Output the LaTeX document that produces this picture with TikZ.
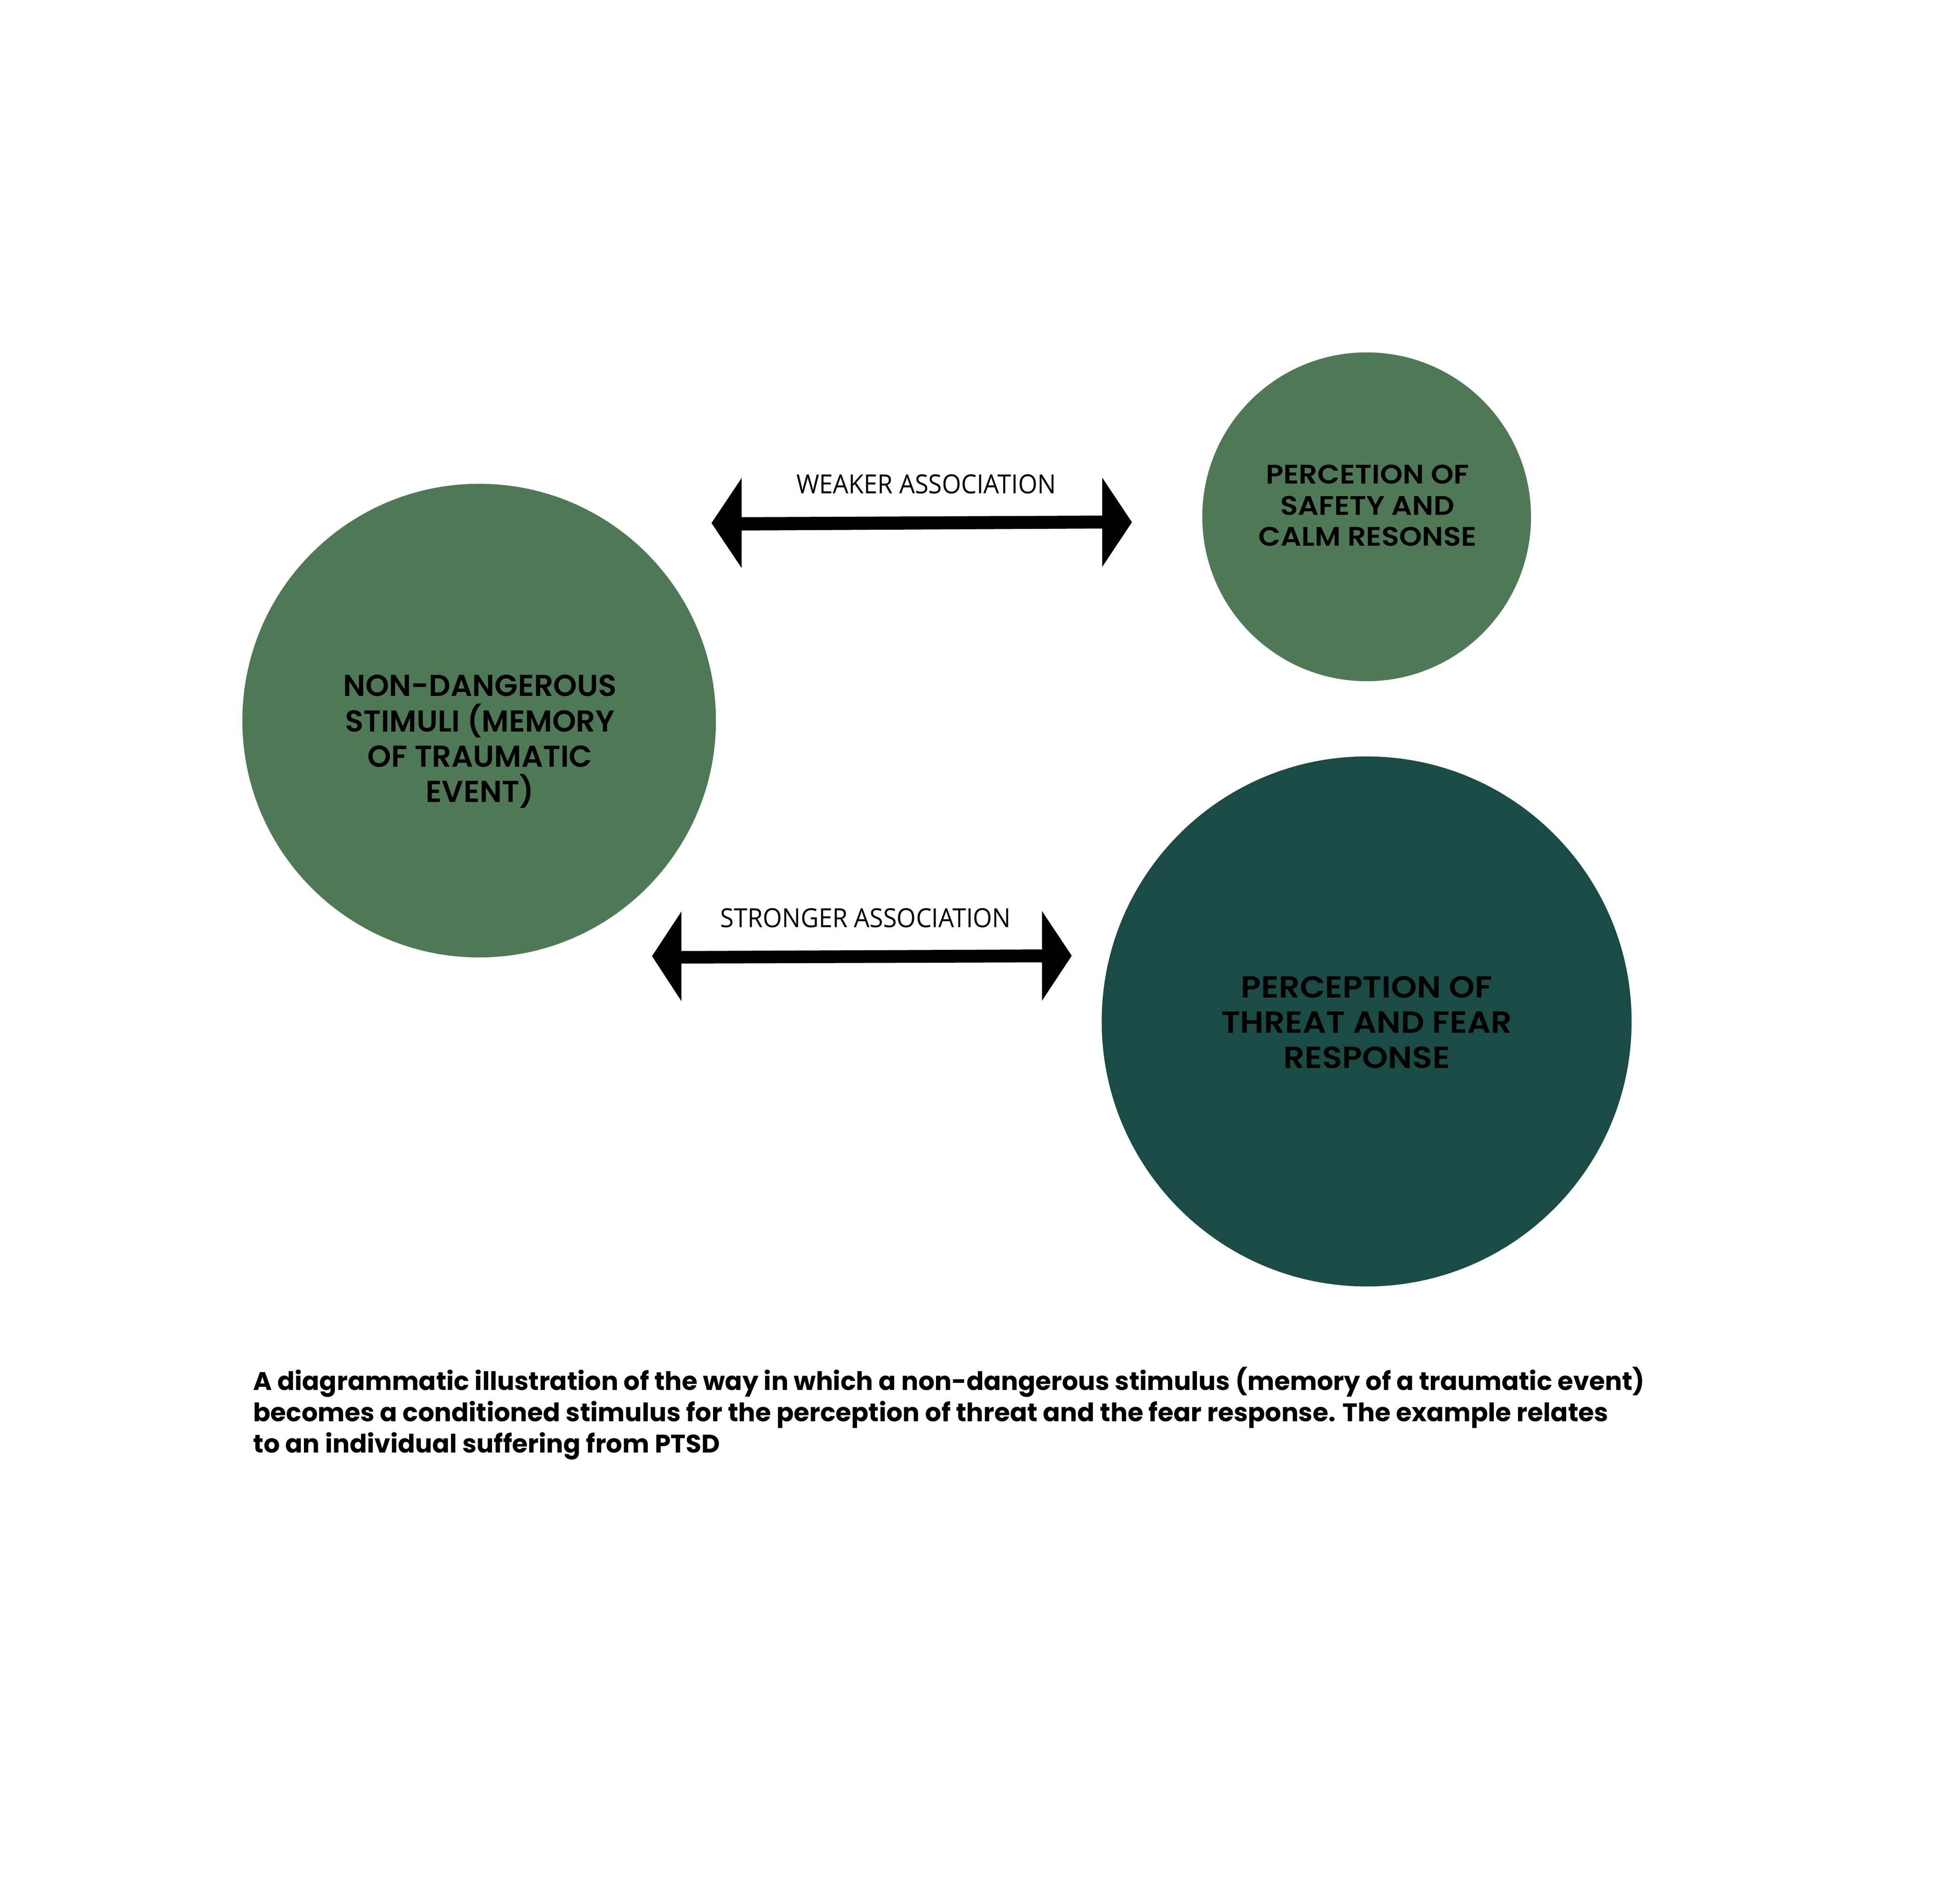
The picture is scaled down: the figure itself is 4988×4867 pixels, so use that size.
\documentclass[tikz,border=0pt]{standalone}
\usepackage{fontspec}
\IfFontExistsTF{Poppins SemiBold}{%
  \setmainfont{Poppins}[BoldFont={Poppins SemiBold}]
  \newfontfamily\widebold{Poppins SemiBold}[FakeStretch=1.08]
  \newfontfamily\capfont{Poppins}
}{%
  \setmainfont{Poppins}
  \newfontfamily\widebold{Poppins}[FakeStretch=1.08,UprightFont={* Bold}]
  \newfontfamily\capfont{Poppins}
}
\newfontfamily\labelfont{Open Sans}[FakeStretch=0.94]
\definecolor{lightgreen}{RGB}{79,121,86}
\definecolor{darkgreen}{RGB}{26,76,69}
\begin{document}
\begin{tikzpicture}[x=0.01cm,y=-0.01cm,
  bubble/.style={circle,inner sep=0pt,outer sep=0pt,draw=none},
  bigtext/.style={anchor=base,inner sep=0pt,font=\bfseries\fontsize{22}{26}\selectfont},
  midtext/.style={anchor=base,inner sep=0pt,font=\widebold\fontsize{19.5}{22}\selectfont},
  bottext/.style={anchor=base,inner sep=0pt,font=\widebold\fontsize{22.2}{25}\selectfont},
  captext/.style={anchor=base west,inner sep=0pt,font=\capfont\bfseries\fontsize{18.5}{22}\selectfont},
  arrowlabel/.style={anchor=base,inner sep=0pt,font=\labelfont\fontsize{19.1}{22}\selectfont},
  dblarrow/.style={fill=black,draw=none}]
\useasboundingbox (0,0) rectangle (4988,4867);
% circles
\node[bubble,fill=lightgreen,minimum size=12.10cm] (stim) at (1225,1842) {};
\node[bubble,fill=lightgreen,minimum size=8.40cm] (safe) at (3494,1321) {};
\node[bubble,fill=darkgreen,minimum size=13.54cm] (threat) at (3494,2611) {};
% circle texts
\node[bigtext] (s1) at (1227,1779) {NON-DANGEROUS};
\node[bigtext] (s2) at (1227,1870) {STIMULI (MEMORY};
\node[bigtext] (s3) at (1227,1960) {OF TRAUMATIC};
\node[bigtext] (s4) at (1227,2050) {EVENT)};
\node[midtext] (p1) at (3496,1236) {PERCETION OF};
\node[midtext] (p2) at (3496,1316) {SAFETY AND};
\node[midtext] (p3) at (3496,1395) {CALM RESONSE};
\node[bottext] (t1) at (3494,2550) {PERCEPTION OF};
\node[bottext] (t2) at (3494,2640) {THREAT AND FEAR};
\node[bottext] (t3) at (3494,2730) {RESPONSE};
% arrows
\coordinate (wl) at (1819,1337);
\coordinate (wr) at (2894,1335);
\coordinate (sl) at (1667,2444);
\coordinate (sr) at (2740,2443);
\fill[dblarrow] (wl) -- (1896,1222) -- (1896,1322) -- (2818,1318) -- (2818,1221) -- (wr)
  -- (2818,1449) -- (2818,1351) -- (1896,1356) -- (1896,1452) -- cycle;
\fill[dblarrow] (sl) -- (1742,2330) -- (1742,2431) -- (2664,2427) -- (2664,2329) -- (sr)
  -- (2664,2558) -- (2664,2460) -- (1742,2463) -- (1742,2559) -- cycle;
\node[arrowlabel] (wlab) at (2368,1261) {WEAKER ASSOCIATION};
\node[arrowlabel] (slab) at (2213,2370) {STRONGER ASSOCIATION};
% caption
\node[captext] (c1) at (647,3553) {A diagrammatic illustration of the way in which a non-dangerous stimulus (memory of a traumatic event)};
\node[captext] (c2) at (647,3633) {becomes a conditioned stimulus for the perception of threat and the fear response. The example relates};
\node[captext] (c3) at (647,3713) {to an individual suffering from PTSD};
\end{tikzpicture}
\end{document}
